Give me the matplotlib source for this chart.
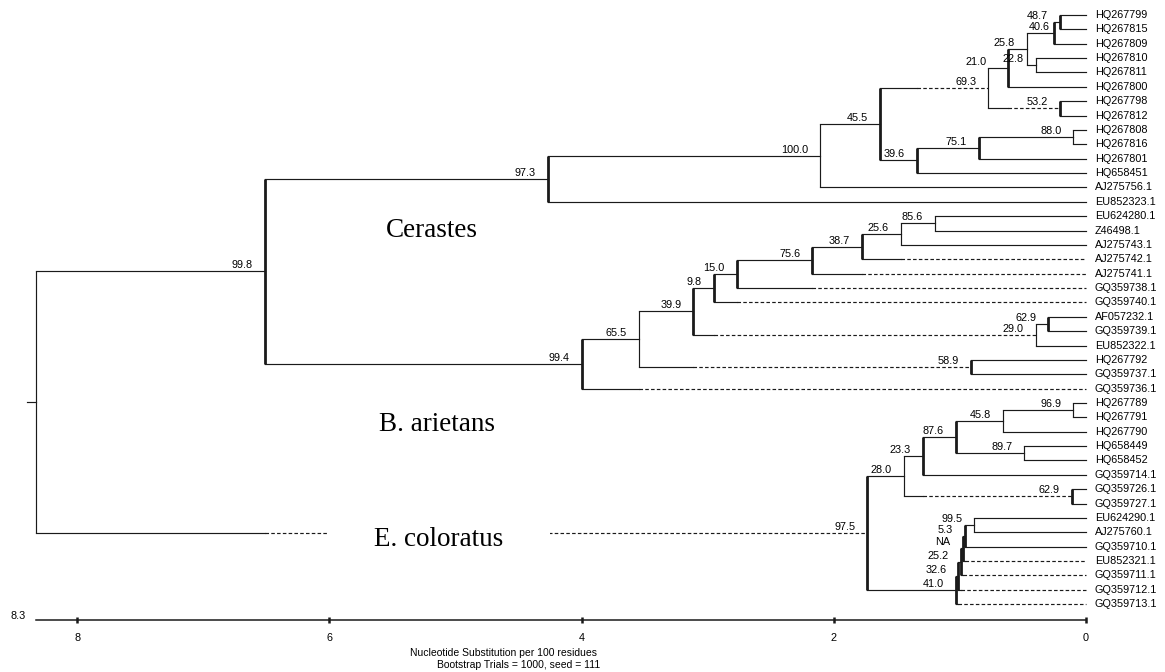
import matplotlib.pyplot as plt

plt.rcParams['font.family'] = ['Liberation Sans', 'DejaVu Sans']

# ---------------- DATA ----------------
# leaves, top to bottom (all tips sit at distance 0)
leaves = [
    "HQ267799", "HQ267815", "HQ267809", "HQ267810", "HQ267811", "HQ267800",
    "HQ267798", "HQ267812", "HQ267808", "HQ267816", "HQ267801", "HQ658451",
    "AJ275756.1", "EU852323.1", "EU624280.1", "Z46498.1", "AJ275743.1",
    "AJ275742.1", "AJ275741.1", "GQ359738.1", "GQ359740.1", "AF057232.1",
    "GQ359739.1", "EU852322.1", "HQ267792", "GQ359737.1", "GQ359736.1",
    "HQ267789", "HQ267791", "HQ267790", "HQ658449", "HQ658452", "GQ359714.1",
    "GQ359726.1", "GQ359727.1", "EU624290.1", "AJ275760.1", "GQ359710.1",
    "EU852321.1", "GQ359711.1", "GQ359712.1", "GQ359713.1",
]

# internal nodes: children, depth (substitutions per 100 residues), bootstrap
node_names = ["root", "A", "D", "B", "C", "E", "G", "K", "L", "N", "M", "J",
              "F", "H", "I", "n994", "n655", "n399", "n98", "n150", "n756",
              "n387", "n256", "n856", "n290", "n629", "n589", "n975", "n280",
              "n233", "n876", "n458", "n969", "n897", "n629b", "n410", "n326",
              "n252", "nNA", "n53", "n995"]
node_children = [
    ("A", "n975"), ("D", "n994"), ("B", "EU852323.1"), ("C", "AJ275756.1"),
    ("E", "F"), ("G", "J"), ("K", "HQ267800"), ("L", "M"), ("N", "HQ267809"),
    ("HQ267799", "HQ267815"), ("HQ267810", "HQ267811"), ("HQ267798", "HQ267812"),
    ("H", "HQ658451"), ("I", "HQ267801"), ("HQ267808", "HQ267816"),
    ("n655", "GQ359736.1"), ("n399", "n589"), ("n98", "n290"),
    ("n150", "GQ359740.1"), ("n756", "GQ359738.1"), ("n387", "AJ275741.1"),
    ("n256", "AJ275742.1"), ("n856", "AJ275743.1"), ("EU624280.1", "Z46498.1"),
    ("n629", "EU852322.1"), ("AF057232.1", "GQ359739.1"),
    ("HQ267792", "GQ359737.1"), ("n280", "n410"), ("n233", "n629b"),
    ("n876", "GQ359714.1"), ("n458", "n897"), ("n969", "HQ267790"),
    ("HQ267789", "HQ267791"), ("HQ658449", "HQ658452"),
    ("GQ359726.1", "GQ359727.1"), ("n326", "GQ359713.1"),
    ("n252", "GQ359712.1"), ("nNA", "GQ359711.1"), ("n53", "EU852321.1"),
    ("n995", "GQ359710.1"), ("EU624290.1", "AJ275760.1"),
]
node_depth = [8.33, 6.51, 4.27, 2.11, 1.63, 0.775, 0.62, 0.47, 0.254, 0.21,
              0.397, 0.21, 1.34, 0.85, 0.10, 4.00, 3.545, 3.114, 2.95, 2.77,
              2.169, 1.779, 1.47, 1.197, 0.399, 0.299, 0.912, 1.734, 1.443,
              1.295, 1.031, 0.656, 0.10, 0.489, 0.113, 1.03, 1.013, 0.995,
              0.978, 0.962, 0.886]
node_support = ["", "99.8", "97.3", "100.0", "45.5", "69.3", "21.0", "25.8",
                "40.6", "48.7", "22.8", "53.2", "39.6", "75.1", "88.0", "99.4",
                "65.5", "39.9", "9.8", "15.0", "75.6", "38.7", "25.6", "85.6",
                "29.0", "62.9", "58.9", "97.5", "28.0", "23.3", "87.6", "45.8",
                "96.9", "89.7", "62.9", "41.0", "32.6", "25.2", "NA", "5.3",
                "99.5"]

# branches drawn dashed beyond the depth of their sibling
dashed = {"E", "J", "AJ275742.1", "AJ275741.1", "GQ359738.1", "GQ359740.1",
          "n290", "n589", "GQ359736.1", "n975", "n629b", "GQ359713.1",
          "GQ359712.1", "GQ359711.1", "EU852321.1"}
# nodes drawn with a heavy vertical bar
heavy = {"A", "D", "C", "G", "L", "N", "J", "F", "H", "n994", "n399", "n98",
         "n150", "n756", "n387", "n629", "n589", "n975", "n233", "n876",
         "n629b", "n410", "n326", "n252", "nNA", "n53"}

scale_ticks = [8, 6, 4, 2, 0]
groups = ["Cerastes", "B. arietans", "E. coloratus"]

# ---------------- LAYOUT ----------------
children = dict(zip(node_names, node_children))
depth = dict(zip(node_names, node_depth))
support = dict(zip(node_names, node_support))
ypos = {}
for i, name in enumerate(leaves):
    ypos[name] = i + 1
    depth[name] = 0.0


def place(n):
    if n in ypos:
        return ypos[n]
    ys = [place(c) for c in children[n]]
    ypos[n] = (ys[0] + ys[-1]) / 2
    return ypos[n]


place("root")

fig = plt.figure(figsize=(11.65, 6.72), dpi=100)
ax = fig.add_axes([0, 0, 1, 1])
ax.set_xlim(8.612, -0.6265)
ax.set_ylim(46.72, -0.044)
ax.axis("off")

LC = "#1a1a1a"
thin, thick = 0.85, 2.0
dash = (0, (3.0, 1.9))

for n in node_names:
    kids = children[n]
    x = depth[n]
    ax.plot([x, x], [ypos[kids[0]], ypos[kids[-1]]], color=LC,
            lw=thick if n in heavy else thin, solid_capstyle="butt")
    for c in kids:
        if c in dashed:
            sib = [s for s in kids if s != c][0]
            xs = depth[sib]
            ax.plot([x, xs], [ypos[c]] * 2, color=LC, lw=thin)
            ax.plot([xs, depth[c]], [ypos[c]] * 2, color=LC, lw=thin, ls=dash)
        else:
            ax.plot([x, depth[c]], [ypos[c]] * 2, color=LC, lw=thin)

# root stub
ax.plot([depth["root"], depth["root"] + 0.065], [ypos["root"]] * 2, color=LC, lw=thin)

# bootstrap values
label_shift = {"G": -9, "L": 8}
for n in node_names:
    if support[n]:
        ax.annotate(support[n], (depth[n], ypos[n]),
                    xytext=(-12 + label_shift.get(n, 0), 1), textcoords="offset pixels",
                    ha="right", va="bottom", fontsize=7.8, color="black")

for name in leaves:
    ax.annotate(name, (0, ypos[name]), xytext=(9, 0), textcoords="offset pixels",
                ha="left", va="center", fontsize=7.8)

# group names
serif = dict(family=["Liberation Serif", "DejaVu Serif"], fontsize=19.5,
             ha="center", va="baseline")
ax.text(5.186, 16.47, groups[0], **serif)
ax.text(5.147, 29.95, groups[1], **serif)
ax.text(5.135, 37.95, groups[2], **serif,
        bbox=dict(facecolor="white", edgecolor="none", boxstyle="square,pad=1.72"))

# distance scale
y_ax = 43.1
ax.plot([depth["root"], 0], [y_ax, y_ax], color=LC, lw=1.1)
for t in scale_ticks:
    ax.plot([t, t], [y_ax - 0.2, y_ax + 0.22], color=LC, lw=1.8, solid_capstyle="butt")
    ax.text(t, 44.35, str(t), ha="center", va="center", fontsize=7.8)
ax.text(8.469, 42.82, f"{depth['root']:.1f}", ha="center", va="center", fontsize=7.8)
ax.text(3.878, 45.4, "Nucleotide Substitution per 100 residues",
        ha="right", va="center", fontsize=7.5)
ax.text(3.854, 46.22, "Bootstrap Trials = 1000, seed = 111",
        ha="right", va="center", fontsize=7.5)

fig.savefig("out.png", dpi=100)
